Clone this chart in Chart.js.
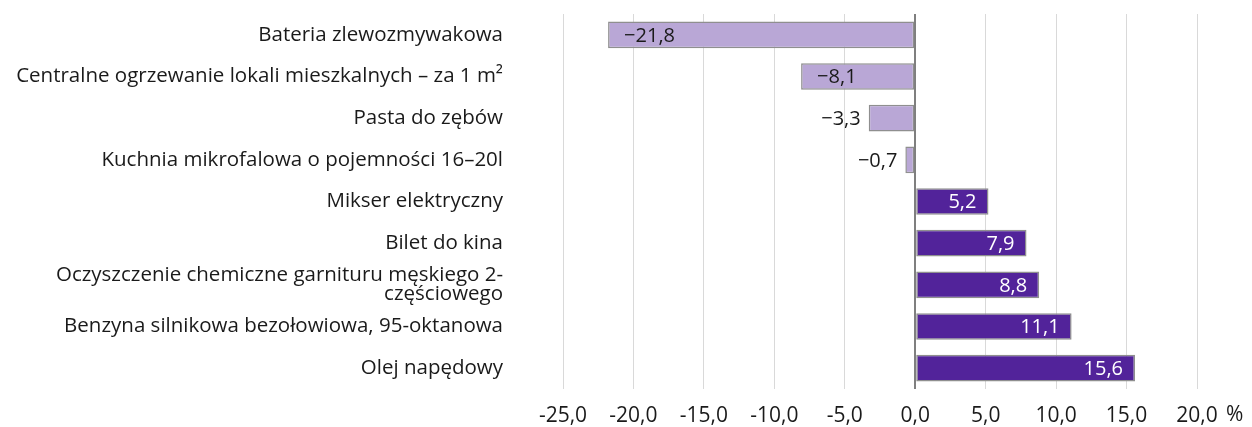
<!DOCTYPE html>
<html>
<head>
<meta charset="utf-8">
<script src="https://cdn.jsdelivr.net/npm/chart.js@4/dist/chart.umd.min.js"></script>
<style>
  html, body { margin: 0; padding: 0; background: #fff; }
  #wrap { width: 1252px; height: 427px; }
</style>
</head>
<body>
<div id="wrap"><canvas id="priceChangeChart"></canvas></div>
<script>
const categories = [
  "Bateria zlewozmywakowa",
  "Centralne ogrzewanie lokali mieszkalnych – za 1 m²",
  "Pasta do zębów",
  "Kuchnia mikrofalowa o pojemności 16–20l",
  "Mikser elektryczny",
  "Bilet do kina",
  ["Oczyszczenie chemiczne garnituru męskiego 2-", "częściowego"],
  "Benzyna silnikowa bezołowiowa, 95-oktanowa",
  "Olej napędowy",
];
const changes = [-21.8, -8.1, -3.3, -0.7, 5.2, 7.9, 8.8, 11.1, 15.6];
const axisMin = -25;
const axisMax = 20;
const axisStep = 5;
const unitLabel = "%";

const FONT = "'Open Sans', 'Noto Sans', sans-serif";
const fmt = (v) => v.toFixed(1).replace(".", ",");

const valueLabels = {
  id: "valueLabels",
  afterDatasetsDraw(chart) {
    const { ctx } = chart;
    const meta = chart.getDatasetMeta(0);
    const zero = chart.scales.x.getPixelForValue(0);
    ctx.save();
    ctx.font = "20px " + FONT;
    ctx.textBaseline = "middle";
    meta.data.forEach((bar, i) => {
      const v = changes[i];
      const text = fmt(Math.abs(v));
      const label = v < 0 ? "\u2212" + text : text;
      const w = ctx.measureText(label).width;
      if (v < 0) {
        ctx.fillStyle = "#1a1a1a";
        if (zero - bar.x > w + 30) {
          ctx.textAlign = "left";
          ctx.fillText(label, bar.x + 16, bar.y + 1);
        } else {
          ctx.textAlign = "right";
          ctx.fillText(label, bar.x - 8, bar.y + 1);
        }
      } else {
        ctx.textAlign = "right";
        ctx.fillStyle = "#ffffff";
        ctx.fillText(label, bar.x - 12, bar.y + 1);
      }
    });
    // unit next to the last tick label
    const xs = chart.scales.x;
    ctx.font = "21px " + FONT;
    ctx.fillStyle = "#1a1a1a";
    ctx.textAlign = "left";
    ctx.fillText(unitLabel, xs.getPixelForValue(axisMax) + 29, xs.top + 26);
    ctx.restore();
  },
};

new Chart(document.getElementById("priceChangeChart"), {
  type: "bar",
  data: {
    labels: categories,
    datasets: [
      {
        data: changes,
        backgroundColor: changes.map((v) => (v < 0 ? "#b9a7d6" : "#52239a")),
        borderColor: "#8f8f8f",
        borderWidth: 1.5,
        borderSkipped: false,
        barPercentage: 0.64,
        categoryPercentage: 1,
      },
    ],
  },
  options: {
    indexAxis: "y",
    responsive: true,
    maintainAspectRatio: false,
    animation: false,
    layout: { padding: { top: 14, right: 55, bottom: 0, left: 0 } },
    plugins: {
      legend: { display: false },
      tooltip: { enabled: false },
    },
    scales: {
      x: {
        min: axisMin,
        max: axisMax,
        border: { display: false },
        grid: {
          drawTicks: false,
          color: (c) => (c.tick && c.tick.value === 0 ? "#7f7f7f" : "#d9d9d9"),
          lineWidth: (c) => (c.tick && c.tick.value === 0 ? 2 : 1),
        },
        afterFit: (scale) => {
          scale.height = 38;
        },
        ticks: {
          stepSize: axisStep,
          padding: 14,
          maxRotation: 0,
          color: "#1a1a1a",
          font: { family: FONT, size: 21 },
          callback: (v) => fmt(v),
        },
      },
      y: {
        border: { display: false },
        grid: {
          display: true,
          drawOnChartArea: false,
          drawTicks: true,
          tickLength: 60,
          color: "rgba(0,0,0,0)",
        },
        afterFit: (scale) => {
          scale.width = 563;
        },
        ticks: {
          padding: 0,
          autoSkip: false,
          color: "#1a1a1a",
          font: { family: FONT, size: 20.5, lineHeight: 0.93 },
        },
      },
    },
  },
  plugins: [valueLabels],
});
</script>
</body>
</html>
